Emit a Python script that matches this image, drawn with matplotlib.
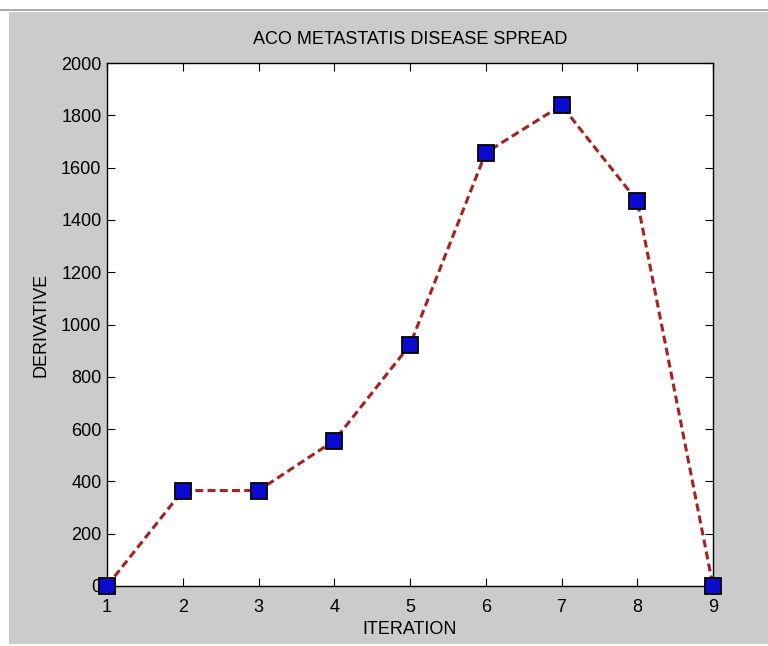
import matplotlib
matplotlib.use("Agg")
import matplotlib.pyplot as plt
from matplotlib.lines import Line2D

iteration = [1, 2, 3, 4, 5, 6, 7, 8, 9]
derivative = [0, 365, 365, 556, 922, 1657, 1838, 1472, 0]
x_ticks = [1, 2, 3, 4, 5, 6, 7, 8, 9]
y_ticks = [0, 200, 400, 600, 800, 1000, 1200, 1400, 1600, 1800, 2000]

plt.rcParams['font.family'] = ['Liberation Sans', 'DejaVu Sans']

W, H = 768, 646
fig = plt.figure(figsize=(W / 100, H / 100), dpi=100, facecolor='white')

# grey matlab figure window background
fig.patches.append(plt.Rectangle((9 / W, 2 / H), 1, 1 - 14 / H, transform=fig.transFigure,
                                 facecolor='#cbcbcb', edgecolor='none', zorder=-2))
fig.lines.append(Line2D([0, 1], [1 - 10 / H, 1 - 10 / H], transform=fig.transFigure,
                        color='#9a9a9a', lw=1.2))

left, right, top, bottom = 107, 713, 63, 586
ax = fig.add_axes([left / W, 1 - bottom / H, (right - left) / W, (bottom - top) / H])
ax.set_facecolor('white')

ax.plot(iteration, derivative, linestyle='--', color='#a82020', lw=2.2, dashes=(2.6, 1.4),
        marker='s', markersize=11, markerfacecolor='#0a0ad0', markeredgecolor='black',
        markeredgewidth=1.3, clip_on=False, zorder=5)

ax.set_xlim(1, 9)
ax.set_ylim(0, 2000)
ax.set_xticks(x_ticks)
ax.set_yticks(y_ticks)
ax.tick_params(direction='in', top=True, right=True, length=6, width=0.8,
               labelsize=13, colors='black')
ax.tick_params(axis='x', pad=9)
ax.tick_params(axis='y', pad=4)
for s in ax.spines.values():
    s.set_linewidth(1.0)

ax.set_title('ACO METASTATIS DISEASE SPREAD', fontsize=13, pad=14)
ax.set_xlabel('ITERATION', fontsize=13, labelpad=4)
ax.set_ylabel('DERIVATIVE', fontsize=13, labelpad=8)

fig.savefig('out.png', dpi=100, facecolor=fig.get_facecolor())
